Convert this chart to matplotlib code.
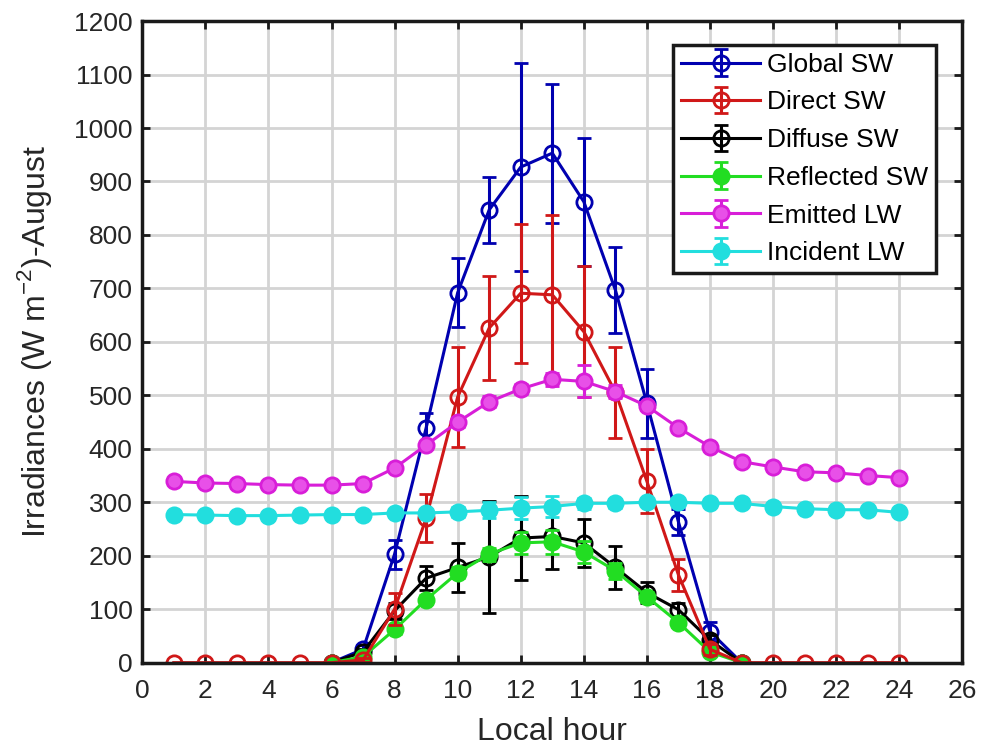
import matplotlib
matplotlib.use('Agg')
import matplotlib.pyplot as plt
import numpy as np

plt.rcParams['font.family'] = ['Liberation Sans', 'DejaVu Sans']
plt.rcParams['mathtext.fontset'] = 'custom'
plt.rcParams['mathtext.rm'] = 'Liberation Sans'

nan = np.nan

# Hourly means (W m-2) and standard deviations, August
hours = list(range(1, 25))

global_sw = [nan, nan, nan, nan, nan, 0, 25, 203, 439, 692, 847, 927, 953, 862, 697, 485,
             263, 58, 0, nan, nan, nan, nan, nan]
global_err = [0, 0, 0, 0, 0, 0, 8, 27, 28, 65, 62, 195, 130, 120, 80, 65,
              25, 18, 0, 0, 0, 0, 0, 0]

direct_sw = [0, 0, 0, 0, 0, 0, 5, 100, 270, 497, 626, 691, 688, 619, 506, 339,
             164, 25, 0, 0, 0, 0, 0, 0]
direct_err = [0, 0, 0, 0, 0, 0, 3, 30, 45, 93, 98, 130, 150, 122, 85, 60,
              30, 10, 0, 0, 0, 0, 0, 0]

diffuse_sw = [nan, nan, nan, nan, nan, 0, 20, 97, 158, 178, 198, 233, 236, 224, 178, 131,
              99, 42, 0, nan, nan, nan, nan, nan]
diffuse_err = [0, 0, 0, 0, 0, 0, 5, 15, 22, 45, 105, 78, 60, 45, 40, 20,
               12, 10, 0, 0, 0, 0, 0, 0]

reflected_sw = [nan, nan, nan, nan, nan, 0, 11, 62, 118, 168, 203, 224, 226, 207, 172, 123,
                75, 20, 0, nan, nan, nan, nan, nan]
reflected_err = [0, 0, 0, 0, 0, 0, 3, 8, 8, 10, 12, 20, 22, 20, 15, 10,
                 8, 5, 0, 0, 0, 0, 0, 0]

emitted_lw = [339, 336, 335, 333, 332, 332, 335, 364, 407, 450, 488, 512, 530, 526,
              507, 480, 439, 404, 376, 366, 357, 355, 350, 346]
emitted_err = [4, 4, 4, 4, 4, 4, 4, 6, 8, 10, 10, 10, 12, 30, 12, 8,
               6, 5, 4, 4, 4, 4, 4, 4]

incident_lw = [277, 276, 275, 275, 276, 277, 277, 280, 280, 282, 285, 289, 292, 298,
               298, 300, 300, 298, 298, 292, 288, 286, 286, 281]
incident_err = [5, 5, 5, 5, 5, 5, 5, 6, 8, 10, 15, 20, 20, 10, 8, 6,
                5, 5, 5, 5, 5, 5, 5, 5]

# name, values, errors, colour, marker face, draw order
series = [
    ("Global SW", global_sw, global_err, '#0000b0', 'none', 3),
    ("Direct SW", direct_sw, direct_err, '#d01818', 'none', 6),
    ("Diffuse SW", diffuse_sw, diffuse_err, '#000000', 'none', 4),
    ("Reflected SW", reflected_sw, reflected_err, '#22dd22', '#22dd22', 5),
    ("Emitted LW", emitted_lw, emitted_err, '#d81ed8', '#e850e8', 7),
    ("Incident LW", incident_lw, incident_err, '#22dede', '#22dede', 8),
]

fig = plt.figure(figsize=(9.81, 7.53), dpi=100)
ax = fig.add_axes([0.145, 0.12, 0.836, 0.852])

for label, vals, err, col, face, z in series:
    ax.errorbar(hours, vals, yerr=err, color=col, ecolor=col, marker='o',
                markersize=11, markerfacecolor=face, markeredgecolor=col,
                markeredgewidth=2, linewidth=2.2, elinewidth=2.2, capsize=5,
                capthick=2, label=label, zorder=z)

ax.set_xlim(0, 26)
ax.set_ylim(0, 1200)
ax.set_xticks(np.arange(0, 27, 2))
ax.set_yticks(np.arange(0, 1201, 100))
ax.grid(True, color='#d4d4d4', linewidth=2)
ax.set_axisbelow(True)
ax.tick_params(direction='in', length=6, width=2, top=True, right=True,
               labelsize=19, colors='#1a1a1a', labelcolor='#262626')
ax.tick_params(axis='x', pad=12)
ax.tick_params(axis='y', pad=7)
for sp in ax.spines.values():
    sp.set_linewidth(2.5)
    sp.set_color('#1a1a1a')
    sp.set_zorder(10)

ax.set_xlabel("Local hour", fontsize=23, color='#262626', labelpad=10)
ax.set_ylabel("Irradiances (W m$^{\\mathrm{-2}}$)-August", fontsize=23,
              color='#262626', labelpad=14)

leg = ax.legend(loc='upper right', bbox_to_anchor=(0.968, 0.963), fontsize=19,
                fancybox=False, framealpha=1, edgecolor='#1a1a1a',
                handlelength=3.0, handletextpad=0.25, borderpad=0.3,
                labelspacing=0.52, borderaxespad=0)
leg.get_frame().set_linewidth(2.5)
leg.set_zorder(20)

plt.savefig("out.png", dpi=100)
